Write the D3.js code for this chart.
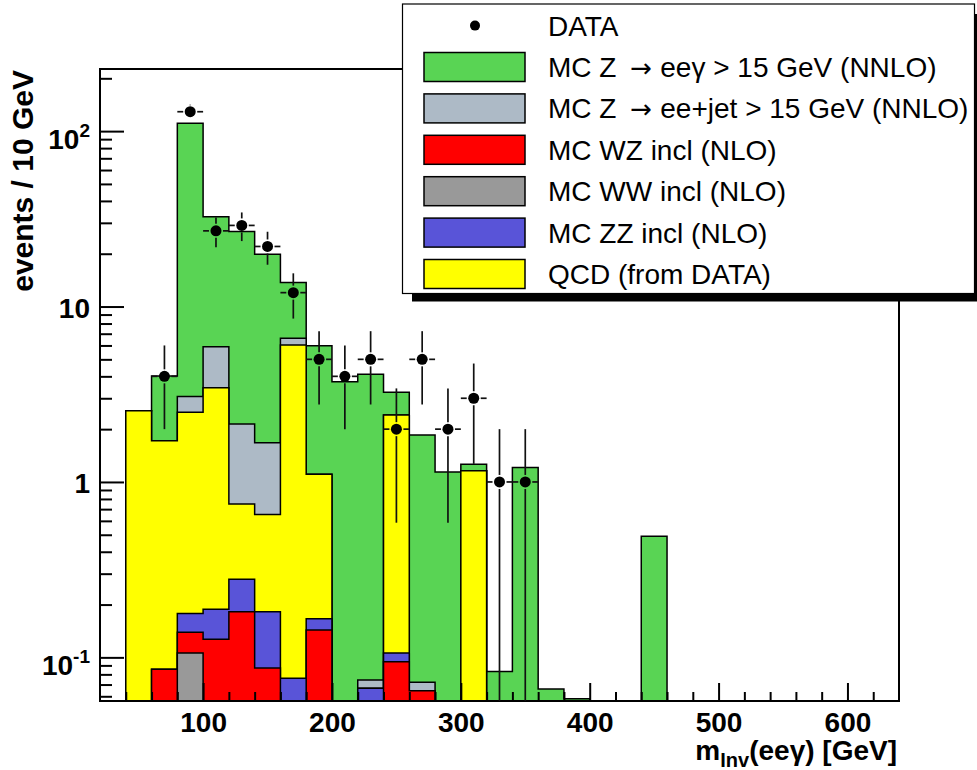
<!DOCTYPE html>
<html>
<head>
<meta charset="utf-8">
<script src="https://cdn.jsdelivr.net/npm/d3@7"></script>
<style>
  body { margin: 0; background: #fff; }
  svg { display: block; font-family: "Liberation Sans", Arial, Helvetica, sans-serif; }
</style>
</head>
<body>
<div id="chart"></div>
<script>
// ---------------------------------------------------------------------------
// DATA (events per bin)
// ---------------------------------------------------------------------------
const binEdges = [40, 60, 80, 100, 120, 140, 160, 180, 200, 220, 240, 260, 280, 300, 320, 340, 360, 380, 400, 420, 440, 460];

const dataCounts = [0, 4, 129, 27, 29, 22, 12, 5, 4, 5, 2, 5, 2, 3, 1, 1, 0, 0, 0, 0, 0];

// stack order, bottom -> top
const mcWW   = [0, 0, 0.106, 0, 0, 0, 0, 0, 0, 0, 0, 0, 0, 0, 0, 0, 0, 0, 0, 0, 0];
const mcWZ   = [0, 0.0855, 0.033, 0.127, 0.182, 0.087, 0, 0.143, 0, 0, 0.0945, 0.0646, 0, 0, 0, 0, 0, 0, 0, 0, 0];
const mcZZ   = [0, 0, 0.039, 0.061, 0.097, 0.095, 0.076, 0.023, 0, 0.0667, 0.0115, 0, 0, 0, 0, 0, 0, 0, 0, 0, 0];
const qcd    = [2.55, 1.63, 2.32, 3.26, 0.47, 0.47, 5.96, 0.94, 0, 0, 2.30, 0, 0, 1.16, 0, 0, 0, 0, 0, 0, 0];
const mcZjet = [0, 0, 0.57, 2.46, 1.39, 1.02, 0.56, 0, 0, 0.0076, 0, 0.0075, 0, 0, 0, 0, 0, 0, 0, 0, 0];
const mcZeeg = [0, 2.3, 107.8, 26.6, 24.6, 18.2, 7.1, 4.87, 3.73, 4.04, 0.84, 1.78, 1.14, 0.10, 0.083, 1.21, 0.066, 0.058, 0, 0, 0.49];

const xTickValues = [100, 200, 300, 400, 500, 600];
const yTickValues = [0.1, 1, 10, 100];
const yTickLabels = [["10", "-1"], ["1", ""], ["10", ""], ["10", "2"]];

// "|" marks where the arrow glyph goes
const legendLabels = [
    "DATA",
    "MC Z |ee\u03b3 > 15 GeV (NNLO)",
    "MC Z |ee+jet > 15 GeV (NNLO)",
    "MC WZ incl (NLO)",
    "MC WW incl (NLO)",
    "MC ZZ incl (NLO)",
    "QCD (from DATA)"
];

// ---------------------------------------------------------------------------
// SETUP
// ---------------------------------------------------------------------------
const W = 977, H = 770;
const frame = { left: 100, right: 899, top: 69, bottom: 701 };

const svg = d3.select('#chart')
    .append('svg')
    .attr('width', W)
    .attr('height', H);

const x = d3.scaleLinear()
    .domain([20, 640])
    .range([frame.left, frame.right]);

const y = d3.scaleLog()
    .domain([0.0564, 226])
    .range([frame.bottom, frame.top]);

const colors = {
    zeeg: '#59d454',
    zjet: '#adbac6',
    wz: '#ff0000',
    ww: '#999999',
    zz: '#5954d8',
    qcd: '#ffff00'
};

// layers bottom -> top
const layers = [
    { key: 'ww', values: mcWW },
    { key: 'wz', values: mcWZ },
    { key: 'zz', values: mcZZ },
    { key: 'qcd', values: qcd },
    { key: 'zjet', values: mcZjet },
    { key: 'zeeg', values: mcZeeg }
];

// cumulative sums, like a THStack
let running = binEdges.slice(1).map(() => 0);
layers.forEach(l => {
    running = running.map((r, i) => r + l.values[i]);
    l.cum = running.slice();
});

svg.append('clipPath').attr('id', 'plotclip')
    .append('rect')
    .attr('x', frame.left).attr('y', frame.top)
    .attr('width', frame.right - frame.left)
    .attr('height', frame.bottom - frame.top);

const histG = svg.append('g').attr('clip-path', 'url(#plotclip)');

const yClamp = v => v > 0 ? Math.min(y(v), frame.bottom) : frame.bottom;

function stepPoints(vals) {
    const pts = [[x(binEdges[0]), frame.bottom]];
    vals.forEach((v, i) => {
        pts.push([x(binEdges[i]), yClamp(v)]);
        pts.push([x(binEdges[i + 1]), yClamp(v)]);
    });
    pts.push([x(binEdges[binEdges.length - 1]), frame.bottom]);
    return pts;
}

const stepLine = d3.line().curve(d3.curveLinearClosed);

// draw the total first, then each smaller cumulative on top
layers.slice().reverse().forEach(l => {
    histG.append('path')
        .attr('d', stepLine(stepPoints(l.cum)))
        .attr('fill', colors[l.key])
        .attr('stroke', '#000')
        .attr('stroke-width', 1.5)
        .attr('stroke-linejoin', 'miter');
});

// ---------------------------------------------------------------------------
// AXES
// ---------------------------------------------------------------------------
const xMinor = d3.range(40, 640, 20).filter(v => v % 100 !== 0);

svg.append('g')
    .attr('transform', `translate(0,${frame.bottom})`)
    .call(d3.axisBottom(x).tickValues(xMinor).tickSize(-9).tickFormat(''))
    .call(g => g.select('.domain').remove())
    .call(g => g.selectAll('line').attr('stroke', '#000').attr('stroke-width', 2));

svg.append('g')
    .attr('transform', `translate(0,${frame.bottom})`)
    .call(d3.axisBottom(x).tickValues(xTickValues).tickSize(-18).tickPadding(11).tickFormat(d3.format('d')))
    .call(g => g.select('.domain').remove())
    .call(g => g.selectAll('line').attr('stroke', '#000').attr('stroke-width', 2))
    .call(g => g.selectAll('text')
        .attr('fill', '#000')
        .style('font-size', '28px')
        .style('font-weight', 'bold')
        .style('font-family', '"Liberation Sans", Arial, sans-serif'));

const yMinor = [];
[0.01, 0.1, 1, 10, 100].forEach(dec => {
    for (let k = 2; k <= 9; k++) {
        const v = k * dec;
        if (v > y.domain()[0] && v < y.domain()[1]) yMinor.push(v);
    }
});

svg.append('g')
    .attr('transform', `translate(${frame.left},0)`)
    .call(d3.axisLeft(y).tickValues(yMinor).tickSize(-12).tickFormat(''))
    .call(g => g.select('.domain').remove())
    .call(g => g.selectAll('line').attr('stroke', '#000').attr('stroke-width', 2));

const yAxisG = svg.append('g')
    .attr('transform', `translate(${frame.left},0)`)
    .call(d3.axisLeft(y).tickValues(yTickValues).tickSize(-24).tickPadding(10).tickFormat(''))
    .call(g => g.select('.domain').remove())
    .call(g => g.selectAll('line').attr('stroke', '#000').attr('stroke-width', 2));

yAxisG.selectAll('.tick text').each(function (d) {
    const lab = yTickLabels[yTickValues.indexOf(d)];
    const t = d3.select(this)
        .attr('fill', '#000')
        .style('font-size', '28px')
        .style('font-weight', 'bold')
        .style('font-family', '"Liberation Sans", Arial, sans-serif')
        .text(null);
    const shift = lab[1] ? 7 : 1;
    t.attr('dy', null).attr('y', 10 + shift);
    t.append('tspan').text(lab[0]);
    if (lab[1]) {
        t.append('tspan')
            .attr('dy', -12)
            .style('font-size', '19px')
            .text(lab[1]);
    }
});

// frame
svg.append('rect')
    .attr('x', frame.left).attr('y', frame.top)
    .attr('width', frame.right - frame.left)
    .attr('height', frame.bottom - frame.top)
    .attr('fill', 'none')
    .attr('stroke', '#000')
    .attr('stroke-width', 2);

// ---------------------------------------------------------------------------
// DATA POINTS
// ---------------------------------------------------------------------------
const markerR = 5.5;
const dataG = svg.append('g').attr('clip-path', 'url(#plotclip)');

dataCounts.forEach((n, i) => {
    if (n <= 0) return;
    const cx = x((binEdges[i] + binEdges[i + 1]) / 2);
    const cy = y(n);
    const err = Math.sqrt(n);
    const yTop = y(n + err);
    const yBot = (n - err) > 0 ? Math.min(y(n - err), frame.bottom) : frame.bottom;
    const gap = markerR + 1.5;
    const segs = [
        [x(binEdges[i]), cy, cx - gap, cy],
        [cx + gap, cy, x(binEdges[i + 1]), cy],
        [cx, yTop, cx, cy - gap],
        [cx, cy + gap, cx, yBot]
    ];
    segs.forEach(s => {
        if (Math.abs(s[2] - s[0]) + Math.abs(s[3] - s[1]) < 0.5) return;
        dataG.append('line')
            .attr('x1', s[0]).attr('y1', s[1])
            .attr('x2', s[2]).attr('y2', s[3])
            .attr('stroke', '#111')
            .attr('stroke-width', 1.7);
    });
    dataG.append('circle')
        .attr('cx', cx).attr('cy', cy)
        .attr('r', markerR)
        .attr('fill', '#000');
});

// ---------------------------------------------------------------------------
// AXIS TITLES
// ---------------------------------------------------------------------------
svg.append('text')
    .attr('transform', 'translate(33,70) rotate(-90)')
    .attr('text-anchor', 'end')
    .style('font-size', '30px')
    .style('font-weight', 'bold')
    .text('events / 10 GeV');

const xTitle = svg.append('text')
    .attr('x', 897)
    .attr('y', 760)
    .attr('text-anchor', 'end')
    .style('font-size', '28px')
    .style('font-weight', 'bold');
xTitle.append('tspan').text('m');
xTitle.append('tspan').attr('dy', 7).style('font-size', '20px').text('Inv');
xTitle.append('tspan').attr('dy', -7).text('(ee\u03b3) [GeV]');

// ---------------------------------------------------------------------------
// LEGEND
// ---------------------------------------------------------------------------
const legend = svg.append('g').attr('class', 'legend');

// shadow
legend.append('rect')
    .attr('x', 412).attr('y', 14)
    .attr('width', 570).attr('height', 287.5)
    .attr('fill', '#000');

legend.append('rect')
    .attr('x', 402.5).attr('y', 4)
    .attr('width', 572).attr('height', 289.5)
    .attr('fill', '#fff')
    .attr('stroke', '#000')
    .attr('stroke-width', 1.2);

const legendKeys = [null, 'zeeg', 'zjet', 'wz', 'ww', 'zz', 'qcd'];

legendLabels.forEach((lab, i) => {
    const cy = 25.6 + i * 41.4;
    const row = legend.append('g');
    if (legendKeys[i] === null) {
        row.append('circle')
            .attr('cx', 475).attr('cy', cy)
            .attr('r', 5)
            .attr('fill', '#000');
    } else {
        row.append('rect')
            .attr('x', 424).attr('y', cy - 14.5)
            .attr('width', 101).attr('height', 29)
            .attr('fill', colors[legendKeys[i]])
            .attr('stroke', '#000')
            .attr('stroke-width', 1.5);
    }
    const t = row.append('text')
        .attr('x', 548)
        .attr('y', cy + 10)
        .style('font-size', '28px');
    const parts = lab.split('|');
    t.append('tspan').text(parts[0]);
    if (parts.length > 1) {
        t.append('tspan')
            .attr('dx', 6)
            .style('font-family', '"DejaVu Sans", sans-serif')
            .style('font-size', '26px')
            .text('\u2192 ');
        t.append('tspan').text(parts[1]);
    }
});
</script>
</body>
</html>
